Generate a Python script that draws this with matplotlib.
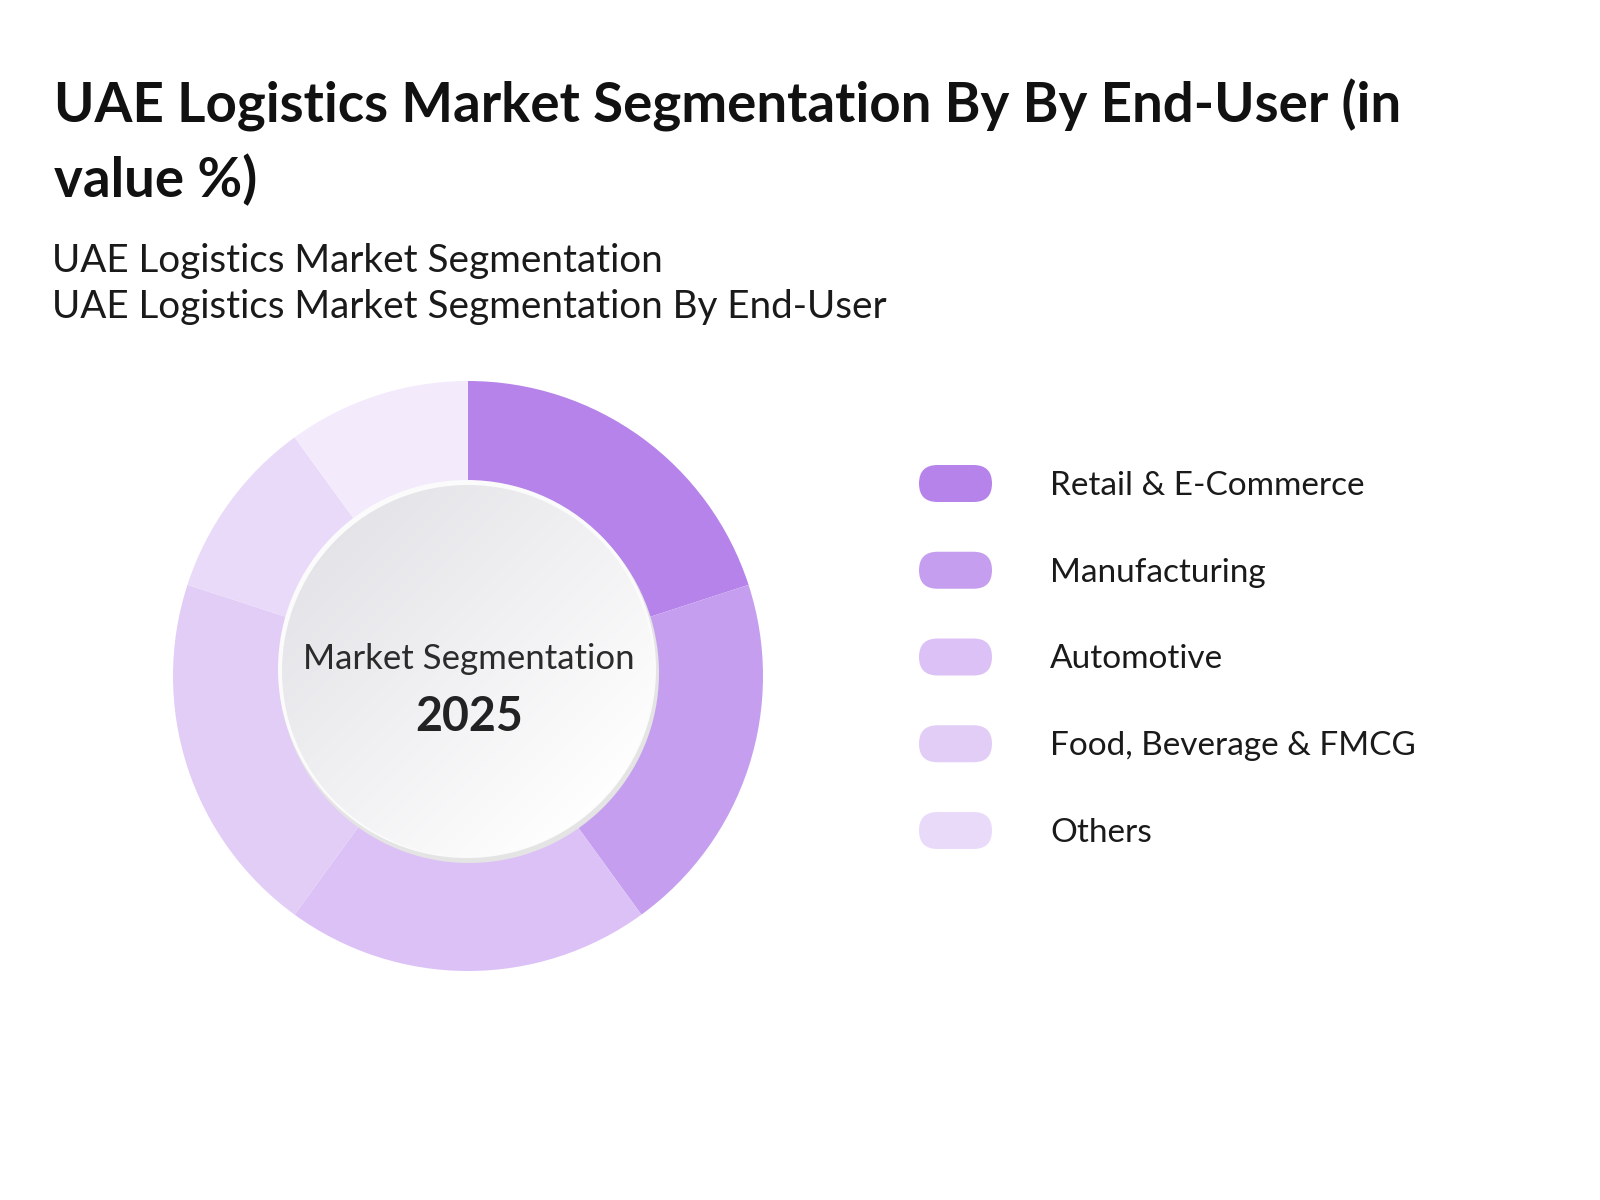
import numpy as np
import matplotlib.pyplot as plt
from matplotlib.patches import Circle, FancyBboxPatch

plt.rcParams['font.family'] = ['Lato', 'DejaVu Sans']

# === DATOS ===
title_lines = ['UAE Logistics Market Segmentation By By End-User (in', 'value %)']
subtitle_lines = ['UAE Logistics Market Segmentation',
                  'UAE Logistics Market Segmentation By End-User']
center_label = 'Market Segmentation'
center_year = '2025'

segments = ['Retail & E-Commerce', 'Manufacturing', 'Automotive',
            'Food, Beverage & FMCG', 'Others', '']
shares = [20, 20, 20, 20, 10, 10]
colors = ['#b583ea', '#c69eef', '#dcc1f7', '#e2cdf7', '#e9dafa', '#f3ebfc']

W, H = 1600, 1200


def fy(py):
    # pixel row (desde arriba) -> coordenada y
    return H - py


fig = plt.figure(figsize=(16, 12), dpi=100)
ax = fig.add_axes([0, 0, 1, 1])

# === DONA ===
cx, cy = 468, fy(676)
ax.pie(shares, colors=colors, startangle=90, counterclock=False,
       radius=295, center=(cx, cy), frame=True,
       wedgeprops=dict(width=115, linewidth=0))

# circulo central con borde y degradado
ccx, ccy, cr = 468, fy(671), 186
ax.add_patch(Circle((ccx + 1, ccy - 2), cr + 4, facecolor='#e4e4e4', edgecolor='none', zorder=3))
ax.add_patch(Circle((ccx - 1, ccy + 2), cr + 3, facecolor='#fbfbfb', edgecolor='none', zorder=4))
clip = Circle((ccx, ccy), cr, facecolor='none', edgecolor='none', zorder=5)
ax.add_patch(clip)
gx, gy = np.meshgrid(np.linspace(0, 1, 200), np.linspace(0, 1, 200))
grad = (gx + gy) / 2  # 0 arriba-izquierda, 1 abajo-derecha (origin='upper')
c0 = np.array([0.875, 0.875, 0.895])
c1 = np.array([1.0, 1.0, 1.0])
t = np.clip(grad * 1.15, 0, 1)[..., None]
img = c0 * (1 - t) + c1 * t
im = ax.imshow(img, extent=(ccx - cr, ccx + cr, ccy - cr, ccy + cr),
               origin='upper', zorder=5, interpolation='bilinear')
im.set_clip_path(clip)

ax.text(469, fy(669), center_label, ha='center', va='baseline',
        fontsize=25, color='#2b2b2b', zorder=6)
ax.text(469, fy(731), center_year, ha='center', va='baseline',
        fontsize=33.5, fontweight='bold', color='#222222', zorder=6)

# === LEYENDA ===
for i, (name, col) in enumerate(zip(segments[:5], colors[:5])):
    yc = 483.5 + i * 86.75
    ax.add_patch(FancyBboxPatch((919, fy(yc) - 18.5), 73, 37,
                                boxstyle='round,pad=0,rounding_size=18.5',
                                facecolor=col, edgecolor='none'))
    ax.text(1050, fy(yc + 11.5), name, ha='left', va='baseline',
            fontsize=24, color='#1a1a1a')

# === TITULOS ===
ax.text(54, fy(122), title_lines[0], ha='left', va='baseline',
        fontsize=39.3, fontweight='bold', color='#111111')
ax.text(54, fy(197), title_lines[1], ha='left', va='baseline',
        fontsize=39.3, fontweight='bold', color='#111111')
ax.text(52, fy(272), subtitle_lines[0], ha='left', va='baseline',
        fontsize=27.8, color='#1a1a1a')
ax.text(52, fy(318), subtitle_lines[1], ha='left', va='baseline',
        fontsize=27.8, color='#1a1a1a')

ax.set_xlim(0, W)
ax.set_ylim(0, H)
ax.set_aspect('equal')
ax.axis('off')

fig.savefig('out.png', dpi=100, facecolor='white')
